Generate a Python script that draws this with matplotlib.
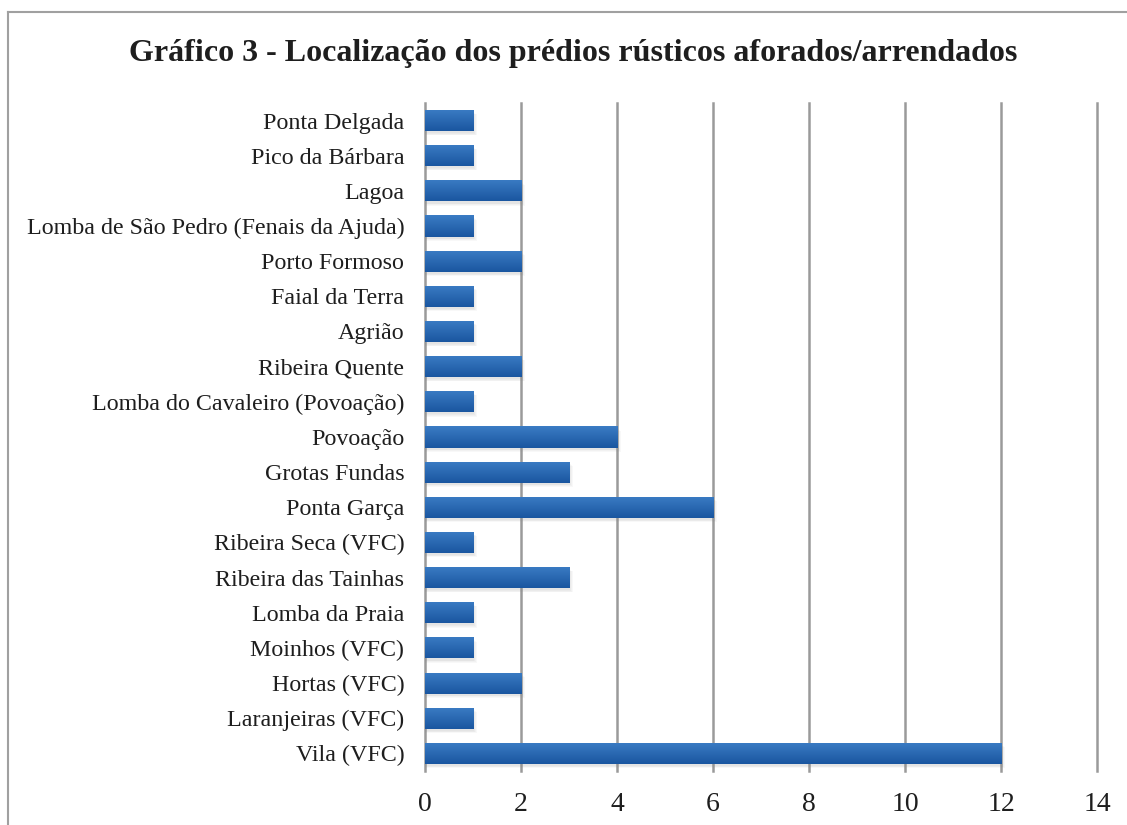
import numpy as np
import matplotlib
matplotlib.use("Agg")
from matplotlib import pyplot as plt
from matplotlib.lines import Line2D

# data, top to bottom as in the chart
places = ["Ponta Delgada", "Pico da Bárbara", "Lagoa",
          "Lomba de São Pedro (Fenais da Ajuda)", "Porto Formoso",
          "Faial da Terra", "Agrião", "Ribeira Quente",
          "Lomba do Cavaleiro (Povoação)", "Povoação", "Grotas Fundas",
          "Ponta Garça", "Ribeira Seca (VFC)", "Ribeira das Tainhas",
          "Lomba da Praia", "Moinhos (VFC)", "Hortas (VFC)",
          "Laranjeiras (VFC)", "Vila (VFC)"]
counts = [1, 1, 2, 1, 2, 1, 1, 2, 1, 4, 3, 6, 1, 3, 1, 1, 2, 1, 12]
xticks = [0, 2, 4, 6, 8, 10, 12, 14]

title = "Gráfico 3 - Localização dos prédios rústicos aforados/arrendados"

plt.rcParams['font.family'] = ['Liberation Serif', 'DejaVu Serif']

fig = plt.figure(figsize=(11.27, 8.25), dpi=100)
ax = fig.add_axes([0.3771, 0.0655, 0.5963, 0.8097])

n = len(places)
ypos = np.arange(n)[::-1]
bh = 0.6

# soft shadow behind each bar
for k in range(4):
    ax.barh(ypos - 0.06 - k * 0.02, np.array(counts) + 0.03 + k * 0.02, height=bh,
            color="#888888", alpha=0.06, zorder=2, linewidth=0)

bars = ax.barh(ypos, counts, height=bh, color="#2a68b0", zorder=3, linewidth=0)

# vertical gradient on the bars (lighter top, darker bottom)
grad = np.linspace(0, 1, 64).reshape(-1, 1)
cmap = matplotlib.colors.LinearSegmentedColormap.from_list("b", ["#3b7cc4", "#1a56a0"])
for b in bars:
    x0, y0 = b.get_x(), b.get_y()
    w, h = b.get_width(), b.get_height()
    im = ax.imshow(grad, cmap=cmap, aspect="auto", extent=[x0, x0 + w, y0, y0 + h],
                   origin="upper", zorder=4)
    im.set_clip_path(b)

ax.set_xlim(0, 14)
ax.set_ylim(-0.5, n - 0.5)
ax.set_xticks(xticks)
ax.set_yticks(ypos)
ax.set_yticklabels(places)
ax.tick_params(axis="y", length=0, pad=15, labelsize=17.3, colors="#1e1e1e")
ax.tick_params(axis="x", length=0, pad=15, labelsize=20, colors="#1e1e1e")
ax.xaxis.grid(True, color="#9a9a9a", linewidth=1.8, zorder=1)
for gl in ax.get_xgridlines():
    gl.set_clip_on(False)
ax.set_axisbelow(True)
for s in ax.spines.values():
    s.set_visible(False)

fig.text(0.509, 0.935, title, ha="center", va="center", fontsize=23,
         fontweight="bold", color="#1e1e1e")

# outer frame (left and top edges only are visible)
fig.add_artist(Line2D([8 / 1127, 8 / 1127], [0, 1 - 12 / 825],
                      transform=fig.transFigure, color="#a0a0a0", linewidth=1.5))
fig.add_artist(Line2D([8 / 1127, 1], [1 - 12 / 825, 1 - 12 / 825],
                      transform=fig.transFigure, color="#a0a0a0", linewidth=1.5))

fig.savefig("out.png", dpi=100)
